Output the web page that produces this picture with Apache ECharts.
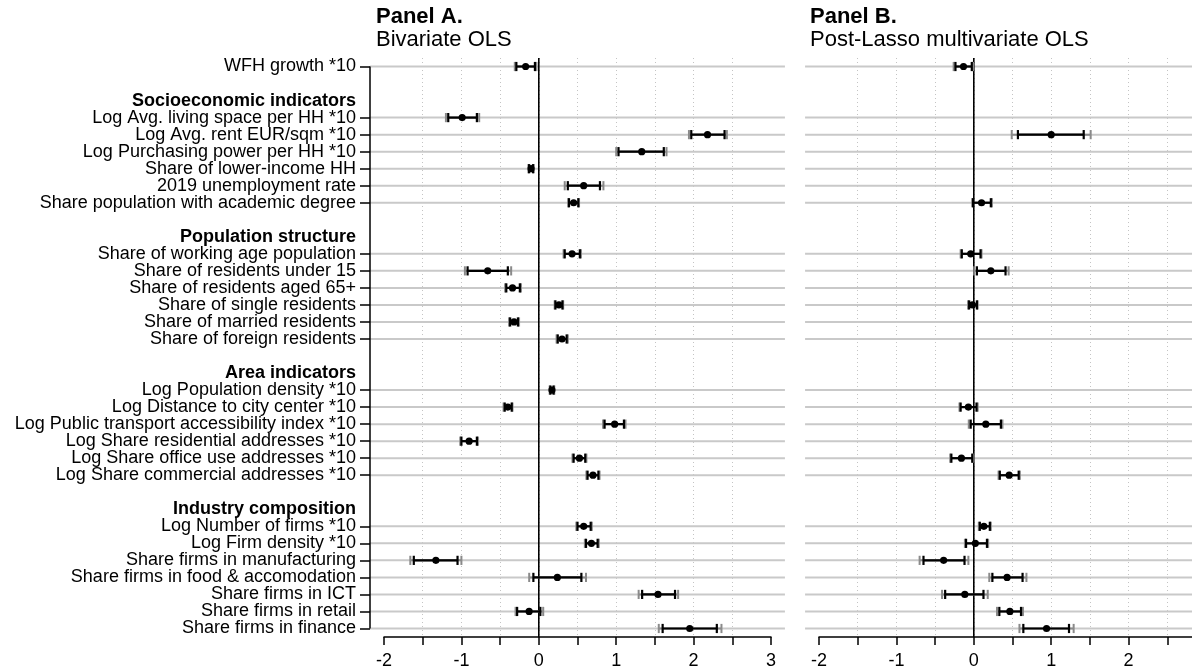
<!DOCTYPE html>
<html>
<head>
<meta charset="utf-8">
<script src="https://cdn.jsdelivr.net/npm/echarts@6/dist/echarts.min.js"></script>
<style>
html,body{margin:0;padding:0;background:#fff;}
#chart{width:1192px;height:670px;}
</style>
</head>
<body>
<div id="chart"></div>
<script>
// ---------------- DATA ----------------
const rowLabels = [
  'WFH growth *10', '',
  'Socioeconomic indicators',
  'Log Avg. living space per HH *10',
  'Log Avg. rent EUR/sqm *10',
  'Log Purchasing power per HH *10',
  'Share of lower-income HH',
  '2019 unemployment rate',
  'Share population with academic degree', '',
  'Population structure',
  'Share of working age population',
  'Share of residents under 15',
  'Share of residents aged 65+',
  'Share of single residents',
  'Share of married residents',
  'Share of foreign residents', '',
  'Area indicators',
  'Log Population density *10',
  'Log Distance to city center *10',
  'Log Public transport accessibility index *10',
  'Log Share residential addresses *10',
  'Log Share office use addresses *10',
  'Log Share commercial addresses *10', '',
  'Industry composition',
  'Log Number of firms *10',
  'Log Firm density *10',
  'Share firms in manufacturing',
  'Share firms in food & accomodation',
  'Share firms in ICT',
  'Share firms in retail',
  'Share firms in finance'
];
const headerRows = [2, 10, 18, 26];
const itemRows = [0, 3, 4, 5, 6, 7, 8, 11, 12, 13, 14, 15, 16, 19, 20, 21, 22, 23, 24, 27, 28, 29, 30, 31, 32, 33];

// Panel A: Bivariate OLS (point estimate, 95% CI, 99% CI)
const estA  = [-0.17, -0.99, 2.18, 1.33, -0.10, 0.58, 0.45, 0.43, -0.66, -0.34, 0.26, -0.32, 0.30, 0.17, -0.40, 0.98, -0.90, 0.525, 0.70, 0.58, 0.68, -1.33, 0.24, 1.54, -0.125, 1.95];
const lo95A = [-0.29, -1.17, 1.97, 1.03, -0.125, 0.375, 0.39, 0.335, -0.92, -0.42, 0.215, -0.37, 0.245, 0.15, -0.44, 0.85, -1.00, 0.45, 0.63, 0.50, 0.61, -1.615, -0.07, 1.335, -0.28, 1.60];
const hi95A = [-0.05, -0.80, 2.40, 1.615, -0.075, 0.79, 0.51, 0.53, -0.40, -0.245, 0.305, -0.27, 0.36, 0.19, -0.35, 1.10, -0.80, 0.60, 0.77, 0.67, 0.76, -1.05, 0.55, 1.76, 0.02, 2.30];
const lo99A = [-0.31, -1.20, 1.94, 1.00, -0.135, 0.335, 0.38, 0.32, -0.955, -0.435, 0.205, -0.385, 0.23, 0.14, -0.455, 0.83, -1.015, 0.435, 0.615, 0.485, 0.595, -1.66, -0.124, 1.29, -0.30, 1.55];
const hi99A = [-0.03, -0.77, 2.43, 1.65, -0.065, 0.835, 0.52, 0.545, -0.357, -0.23, 0.315, -0.255, 0.375, 0.20, -0.34, 1.12, -0.785, 0.615, 0.785, 0.685, 0.775, -1.00, 0.61, 1.80, 0.057, 2.36];

// Panel B: Post-Lasso multivariate OLS (null = not selected)
const estB  = [-0.133, null, 1.00, null, null, null, 0.10, -0.04, 0.22, null, -0.017, null, null, null, -0.07, 0.155, null, -0.16, 0.457, 0.13, 0.02, -0.39, 0.43, -0.116, 0.466, 0.94];
const lo95B = [-0.237, null, 0.57, null, null, null, -0.01, -0.155, 0.04, null, -0.06, null, null, null, -0.17, -0.04, null, -0.29, 0.336, 0.078, -0.10, -0.65, 0.24, -0.37, 0.33, 0.64];
const hi95B = [-0.026, null, 1.42, null, null, null, 0.22, 0.087, 0.41, null, 0.04, null, null, null, 0.035, 0.35, null, -0.02, 0.58, 0.207, 0.17, -0.12, 0.63, 0.125, 0.61, 1.23];
const lo99B = [-0.26, null, 0.49, null, null, null, -0.02, -0.17, 0.005, null, -0.075, null, null, null, -0.185, -0.065, null, -0.305, 0.32, 0.065, -0.115, -0.70, 0.20, -0.41, 0.30, 0.59];
const hi99B = [-0.01, null, 1.51, null, null, null, 0.235, 0.10, 0.45, null, 0.05, null, null, null, 0.05, 0.37, null, -0.005, 0.595, 0.22, 0.185, -0.07, 0.68, 0.18, 0.635, 1.29];

const panelTitles = [['Panel A.', 'Bivariate OLS'], ['Panel B.', 'Post-Lasso multivariate OLS']];
const xMin = -2, xMax = 3, xStep = 0.5;

// ---------------- STYLE ----------------
const FONT = '"Liberation Sans", Arial, Helvetica, sans-serif';
const ROW_LINE_MIN = -2.18, ROW_LINE_MAX = 3.18;
const YAXIS_OFFSET = 14;
const CAP = 4.6;

function buildBars(est, lo95, hi95, lo99, hi99) {
  const out = [];
  est.forEach((e, i) => {
    if (e === null) return;
    out.push([itemRows[i], e, lo95[i], hi95[i], lo99[i], hi99[i]]);
  });
  return out;
}

function renderBar(params, api) {
  const y = api.value(0);
  const pe = api.coord([api.value(1), y]);
  const l95 = api.coord([api.value(2), y]);
  const h95 = api.coord([api.value(3), y]);
  const l99 = api.coord([api.value(4), y]);
  const h99 = api.coord([api.value(5), y]);
  const py = pe[1];
  const gray = {stroke: '#8a8a8a', lineWidth: 2};
  const blk = {stroke: '#000', lineWidth: 2.2};
  const cap = (x, st) => ({type: 'line', shape: {x1: x, y1: py - CAP, x2: x, y2: py + CAP}, style: st});
  return {
    type: 'group',
    children: [
      {type: 'line', shape: {x1: l99[0], y1: py, x2: h99[0], y2: py}, style: gray},
      cap(l99[0], gray), cap(h99[0], gray),
      {type: 'line', shape: {x1: l95[0], y1: py, x2: h95[0], y2: py}, style: blk},
      cap(l95[0], blk), cap(h95[0], blk),
      {type: 'circle', shape: {cx: pe[0], cy: py, r: 3.6}, style: {fill: '#000'}}
    ]
  };
}

function renderRowLine(params, api) {
  const r = api.value(0);
  const a = api.coord([api.value(1), r]);
  const b = api.coord([api.value(2), r]);
  return {type: 'line', shape: {x1: a[0], y1: a[1], x2: b[0], y2: b[1]}, style: {stroke: '#c9c9c9', lineWidth: 2}};
}

// vertical reference line at x = 0, spanning the full plot band
function renderZeroLine(params, api) {
  const a = api.coord([api.value(1), api.value(0)]);
  const b = api.coord([api.value(1), api.value(2)]);
  const band = api.size([0, 1])[1];
  return {type: 'line', shape: {x1: a[0], y1: a[1] - band / 2, x2: b[0], y2: b[1] + band / 2}, style: {stroke: '#000', lineWidth: 1.6}};
}

function renderYAxisLine(params, api) {
  const a = api.coord([api.value(1), api.value(0)]);
  const b = api.coord([api.value(1), api.value(2)]);
  return {type: 'line', shape: {x1: a[0] - YAXIS_OFFSET, y1: a[1], x2: b[0] - YAXIS_OFFSET, y2: b[1]}, style: {stroke: '#000', lineWidth: 1.5}};
}

const catData = rowLabels.map((_, i) => 'r' + i);
const rowLineData = itemRows.map(r => [r, ROW_LINE_MIN, ROW_LINE_MAX]);
const firstRow = itemRows[0], lastRow = itemRows[itemRows.length - 1];

function xAxisCfg(gi) {
  return {
    type: 'value', gridIndex: gi, min: xMin, max: xMax, interval: xStep,
    position: 'bottom',
    axisLine: {show: true, onZero: false, lineStyle: {color: '#000', width: 1.5}},
    axisTick: {show: true, length: 8, lineStyle: {color: '#000', width: 1.5}},
    axisLabel: {
      show: true, color: '#000', fontSize: 18, fontFamily: FONT, margin: 15,
      hideOverlap: false, showMinLabel: true, showMaxLabel: true,
      formatter: v => (Math.abs(v - Math.round(v)) < 1e-9 ? String(Math.round(v)) : '')
    },
    splitLine: {show: true, showMinLine: false, showMaxLine: false, lineStyle: {color: '#c4c4c4', width: 1, type: [1, 3]}}
  };
}

function yAxisCfg(gi, showLabels) {
  return {
    type: 'category', gridIndex: gi, data: catData, inverse: true, boundaryGap: true,
    position: 'left', offset: YAXIS_OFFSET,
    axisLine: {show: false, onZero: false},
    axisTick: {
      show: showLabels, alignWithLabel: true, length: 10,
      interval: (idx) => itemRows.indexOf(idx) >= 0,
      lineStyle: {color: '#000', width: 1.5}
    },
    axisLabel: {
      show: showLabels, interval: 0, margin: 14, hideOverlap: false,
      color: '#000', fontSize: 18, fontFamily: FONT,
      formatter: (v) => {
        const i = +String(v).slice(1);
        const t = rowLabels[i];
        if (!t) return '';
        return headerRows.indexOf(i) >= 0 ? '{b|' + t + '}' : t;
      },
      rich: {b: {fontWeight: 'bold', fontSize: 18, fontFamily: FONT, color: '#000'}}
    },
    splitLine: {show: false}
  };
}

function panelSeries(gi, bars, withYLine) {
  const s = [
    {type: 'custom', xAxisIndex: gi, yAxisIndex: gi, renderItem: renderRowLine, data: rowLineData, clip: false, silent: true, z: 1,
     encode: {y: 0, x: [1, 2]}},
    {type: 'custom', xAxisIndex: gi, yAxisIndex: gi, renderItem: renderZeroLine, data: [[firstRow, 0, lastRow]], clip: false, silent: true, z: 3,
     encode: {y: 0, x: 1}},
    {type: 'custom', xAxisIndex: gi, yAxisIndex: gi, renderItem: renderBar, data: bars, clip: false, silent: true, z: 5,
     encode: {y: 0, x: [1, 2, 3, 4, 5]}}
  ];
  if (withYLine) {
    s.push({type: 'custom', xAxisIndex: gi, yAxisIndex: gi, renderItem: renderYAxisLine,
      data: [[firstRow, xMin, lastRow]], clip: false, silent: true, z: 6,
      encode: {y: 0, x: 1}});
  }
  return s;
}

const chart = echarts.init(document.getElementById('chart'), null, {renderer: 'canvas'});
const titleGraphics = [];
[[376, 0], [810, 1]].forEach(([x, k]) => {
  titleGraphics.push({type: 'text', x: x, y: 17, style: {text: panelTitles[k][0], font: 'bold 22px ' + FONT, fill: '#000', verticalAlign: 'middle'}});
  titleGraphics.push({type: 'text', x: x, y: 40, style: {text: panelTitles[k][1], font: '22px ' + FONT, fill: '#000', verticalAlign: 'middle'}});
});

chart.setOption({
  animation: false,
  backgroundColor: '#fff',
  textStyle: {fontFamily: FONT},
  grid: [
    {left: 384, top: 58, width: 387, height: 579, containLabel: false, outerBoundsMode: 'none'},
    {left: 819, top: 58, width: 387, height: 579, containLabel: false, outerBoundsMode: 'none'}
  ],
  xAxis: [xAxisCfg(0), xAxisCfg(1)],
  yAxis: [yAxisCfg(0, true), yAxisCfg(1, false)],
  series: [
    ...panelSeries(0, buildBars(estA, lo95A, hi95A, lo99A, hi99A), true),
    ...panelSeries(1, buildBars(estB, lo95B, hi95B, lo99B, hi99B), false)
  ],
  graphic: titleGraphics
});
</script>
</body>
</html>
